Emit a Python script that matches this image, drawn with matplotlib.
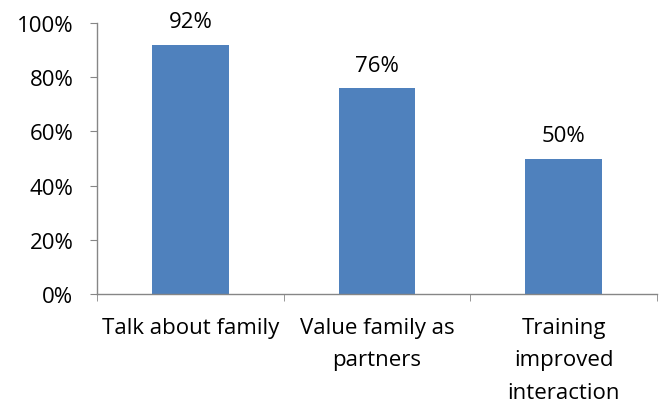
import matplotlib
matplotlib.use("Agg")
import matplotlib.pyplot as plt
from matplotlib.ticker import FixedLocator, PercentFormatter

categories = ["Talk about family", "Value family as\npartners", "Training\nimproved\ninteraction"]
values = [92, 76, 50]
yticks = [0, 20, 40, 60, 80, 100]

plt.rcParams['font.family'] = ['Open Sans', 'DejaVu Sans']
FS = 16

fig = plt.figure(figsize=(6.61, 4.06), dpi=100)
ax = fig.add_axes([97/661, 1-295/406, (657-97)/661, (295-24)/406])

x = list(range(len(categories)))
bars = ax.bar(x, values, width=0.41, color="#4F81BD", zorder=2)
for xi, v in zip(x, values):
    ax.annotate(f"{v}%", (xi, v), xytext=(0, 9), textcoords="offset points",
                ha="center", va="bottom", fontsize=FS, color="#000000")

ax.set_xlim(-0.5, len(categories) - 0.5)
ax.set_ylim(0, 100)
ax.set_yticks(yticks)
ax.yaxis.set_major_formatter(PercentFormatter(decimals=0))
ax.set_xticks(x)
ax.set_xticklabels(categories, fontsize=FS, linespacing=1.72)
ax.xaxis.set_minor_locator(FixedLocator([i - 0.5 for i in range(len(categories) + 1)]))
ax.tick_params(axis="x", which="major", length=0, pad=16.5)
ax.tick_params(axis="x", which="minor", length=5, color="#868686", direction="out")
ax.tick_params(axis="y", length=5, color="#868686", labelsize=FS, pad=12)

for s in ["top", "right"]:
    ax.spines[s].set_visible(False)
for s in ["left", "bottom"]:
    ax.spines[s].set_color("#868686")
    ax.spines[s].set_linewidth(1.0)

fig.savefig("out.png", dpi=100)
